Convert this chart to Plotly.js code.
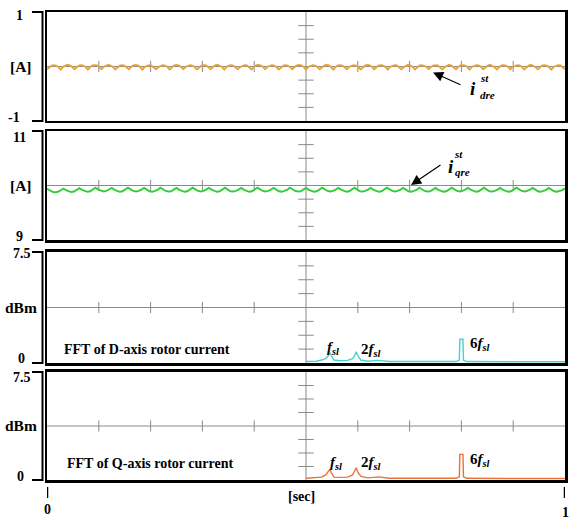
<!DOCTYPE html>
<html><head><meta charset="utf-8">
<script src="https://cdn.plot.ly/plotly-3.0.1.min.js"></script>
<style>html,body{margin:0;padding:0;background:#fff}</style>
</head><body><div id="chart" style="width:572px;height:520px"></div>
<script>
// ---------- data ----------
// Panel 1: d-axis rotor current [A]
const idreValues = [
-0.05,-0.01,0.015,0.025,0.015,-0.01,
-0.055,-0.005,0.02,0.03,0.02,-0.005,
-0.05,-0.015,0.015,0.025,0.015,-0.01,
-0.055,-0.01,0.02,0.025,0.02,-0.01,
-0.05,-0.005,0.015,0.03,0.015,-0.005,
-0.055,-0.01,0.015,0.025,0.015,-0.015,
-0.05,-0.01,0.02,0.03,0.02,-0.01,
-0.055,-0.005,0.015,0.025,0.015,-0.01,
-0.05,-0.01,0.015,0.025,0.015,-0.005,
-0.055,-0.015,0.02,0.03,0.02,-0.01,
-0.05,-0.005,0.015,0.025,0.015,-0.01,
-0.055,-0.01,0.015,0.025,0.02,-0.01,
-0.05,-0.01,0.02,0.03,0.015,-0.005,
-0.055,-0.005,0.015,0.025,0.015,-0.015,
-0.05,-0.01,0.015,0.025,0.02,-0.01,
-0.055,-0.01,0.02,0.03,0.02,-0.005,
-0.05,-0.005,0.015,0.025,0.015,-0.01,
-0.055,-0.015,0.015,0.025,0.015,-0.01,
-0.05,-0.01,0.02,0.03,0.02,-0.01,
-0.055,-0.005,0.015,0.025,0.015,-0.005,
-0.05,-0.01,0.015,0.03,0.02,-0.01,
-0.055,-0.01,0.02,0.025,0.015,-0.015,
-0.05,-0.005,0.015,0.025,0.015,-0.01,
-0.055,-0.01,0.015,0.03,0.02,-0.005,
-0.05,-0.015,0.02,0.025,0.015,-0.01,
-0.055,-0.005,0.015,0.025,0.02,-0.01,
-0.05,-0.01,0.015,0.03,0.015,-0.01,
-0.055,-0.01,0.02,0.025,0.015,-0.005,
-0.05,-0.005,0.015,0.025,0.02,-0.01,
-0.055,-0.01,0.015,0.03,0.015,-0.015,
-0.05,-0.01,0.02,0.025,0.015,-0.01,
-0.055,-0.005,0.015,0.025,0.02,-0.005,
-0.05,-0.015,0.015,0.03,0.015,-0.01,
-0.055,-0.01,0.02,0.025,0.015,-0.01,
-0.05,-0.005,0.015,0.025,0.02,-0.005,
-0.055,-0.01,0.015,0.03,0.015,-0.01,
-0.05,-0.01,0.02,0.025,0.015,-0.015,
-0.055,-0.005,0.015,0.025,0.02,-0.01,
-0.05];

// Panel 2: q-axis rotor current [A]
const iqreValues = [
9.94,9.91,9.885,9.875,9.885,9.91,
9.945,9.915,9.89,9.88,9.89,9.915,
9.95,9.92,9.895,9.885,9.895,9.92,
9.96,9.925,9.9,9.89,9.9,9.925,
9.955,9.92,9.895,9.885,9.895,9.92,
9.96,9.93,9.9,9.89,9.9,9.925,
9.955,9.925,9.895,9.885,9.9,9.92,
9.96,9.925,9.9,9.89,9.895,9.925,
9.955,9.92,9.895,9.885,9.895,9.92,
9.96,9.93,9.9,9.89,9.9,9.925,
9.955,9.925,9.9,9.885,9.895,9.92,
9.96,9.925,9.895,9.89,9.9,9.925,
9.955,9.92,9.9,9.885,9.895,9.92,
9.96,9.93,9.9,9.89,9.9,9.925,
9.955,9.925,9.895,9.885,9.9,9.92,
9.96,9.925,9.9,9.89,9.895,9.925,
9.955,9.92,9.895,9.885,9.895,9.92,
9.96,9.93,9.9,9.89,9.9,9.925,
9.955,9.925,9.9,9.885,9.895,9.92,
9.96,9.925,9.895,9.89,9.9,9.925,
9.955,9.92,9.9,9.885,9.895,9.92,
9.96,9.93,9.9,9.89,9.9,9.925,
9.955,9.925,9.895,9.885,9.9,9.92,
9.96,9.925,9.9,9.89,9.895,9.925,
9.955,9.92,9.895,9.885,9.895,9.92,
9.96,9.93,9.9,9.89,9.9,9.925,
9.955,9.925,9.9,9.885,9.895,9.92,
9.96,9.925,9.895,9.89,9.9,9.925,
9.955,9.92,9.9,9.885,9.895,9.92,
9.96,9.93,9.9,9.89,9.9,9.925,
9.955,9.925,9.895,9.885,9.9,9.92,
9.955,9.92,9.895,9.885,9.895,9.915,
9.95];

// Panel 3: FFT of D-axis rotor current [dBm]
const fftFreqD = [0.5,0.52,0.53,0.538,0.543,0.546,0.549,0.554,0.565,0.58,0.59,0.594,0.597,0.6,0.606,0.62,0.64,0.66,0.7,0.75,0.79,0.796,0.797,0.803,0.804,0.81,0.85,0.9,1.0];
const fftMagD  = [0.1,0.12,0.2,0.3,0.5,0.7,0.5,0.2,0.15,0.18,0.3,0.5,0.76,0.5,0.2,0.12,0.18,0.1,0.1,0.08,0.1,0.2,1.6,1.6,0.2,0.1,0.08,0.08,0.08];
// Panel 4: FFT of Q-axis rotor current [dBm]
const fftFreqQ = [0.5,0.52,0.53,0.538,0.543,0.546,0.549,0.554,0.565,0.58,0.59,0.594,0.597,0.6,0.606,0.62,0.64,0.66,0.7,0.75,0.79,0.796,0.797,0.803,0.804,0.81,0.85,0.9,1.0];
const fftMagQ  = [0.12,0.15,0.2,0.35,0.55,0.74,0.5,0.2,0.18,0.2,0.35,0.6,0.85,0.55,0.25,0.15,0.22,0.12,0.12,0.1,0.12,0.22,1.78,1.78,0.22,0.12,0.1,0.1,0.1];

const yRanges    = [[-1,1],[9,11],[0,7.5],[0,7.5]];
const yTickText  = [['-1','1'],['9','11'],['0','7.5'],['0','7.5']];
const unitLabels = ['[A]','[A]','dBm','dBm'];
const xTickVals  = [0,1];
const xTickText  = ['0','1'];
const xDivisions = [0.1,0.2,0.3,0.4,0.6,0.7,0.8,0.9];
const yDivisionSteps = [1,2,3,5,6,7];   // of 8 divisions per panel

// ---------- layout helpers ----------
const FONT = 'Liberation Serif, Times New Roman, serif';
const sampleTimes = arr => arr.map((_, i) => i / (arr.length - 1));
const domains = [[0.7671,1],[0.5128,0.7457],[0.25,0.4872],[0,0.2308]];
const suffix = p => p === 0 ? '' : String(p + 1);
const pxX = px => (px - 47) / 518;
const pxY = py => (480 - py) / 468;
// pixel placement of the left value labels: [x of bottom, y of bottom, x of top, y of top]
const yLabelPlace = [[14,118,19.5,16],[19,237,19,137],[21.5,358,22,254],[20,476,22,377]];
const xLabelPlace = [[48,509],[566,512]];

const traces = [];
const shapes = [];
const annotations = [];
const layout = {
  width:572, height:520,
  margin:{l:47, r:7, t:12, b:40},
  paper_bgcolor:'#fff', plot_bgcolor:'#fff',
  showlegend:false,
  font:{family:FONT, color:'#000'},
  shapes, annotations
};
const txt = (x, y, text, size, extra) => Object.assign({xref:'paper', yref:'paper', x:x, y:y,
  text:text, showarrow:false, xanchor:'center', yanchor:'middle',
  font:{size:size, family:FONT, weight:'bold', color:'#000'}}, extra || {});

for (let p = 0; p < 4; p++) {
  const s = suffix(p);
  const r = yRanges[p];
  const mid = (r[0] + r[1]) / 2;
  layout['xaxis' + s] = {
    domain:[0,1], range:[0,1], anchor:'y' + s,
    showline:true, mirror:true, linecolor:'#000', linewidth:2.5,
    showgrid:false, zeroline:false, ticks:'', showticklabels:false
  };
  layout['yaxis' + s] = {
    domain:domains[p], range:r, anchor:'x' + s,
    showline:true, mirror:true, linecolor:'#000', linewidth:2.5,
    showgrid:false, zeroline:false, ticks:'', showticklabels:false
  };
  // crosshair lines
  shapes.push({type:'line', layer:'below', xref:'x' + s, yref:'y' + s + ' domain',
    x0:0.5, x1:0.5, y0:0, y1:1, line:{color:'#8a8a8a', width:1}});
  shapes.push({type:'line', layer:'below', xref:'x' + s + ' domain', yref:'y' + s,
    x0:0, x1:1, y0:mid, y1:mid, line:{color:'#8a8a8a', width:1}});
  // left bracket
  const d = domains[p];
  shapes.push({type:'path', xref:'paper', yref:'paper',
    path:`M ${pxX(32)},${d[1]} H ${pxX(42.5)} V ${d[0]} H ${pxX(32)}`,
    line:{color:'#000', width:2}});
  // crosshair division ticks
  traces.push({type:'scatter', mode:'markers', xaxis:'x' + s, yaxis:'y' + s,
    x:xDivisions, y:xDivisions.map(() => mid), hoverinfo:'skip',
    marker:{symbol:'line-ns', size:8, line:{color:'#8a8a8a', width:1}}});
  traces.push({type:'scatter', mode:'markers', xaxis:'x' + s, yaxis:'y' + s,
    x:yDivisionSteps.map(() => 0.5), y:yDivisionSteps.map(k => r[0] + k * (r[1] - r[0]) / 8),
    hoverinfo:'skip',
    marker:{symbol:'line-ew', size:11, line:{color:'#8a8a8a', width:1}}});
  // value labels (bottom, top) and unit label
  const lp = yLabelPlace[p];
  annotations.push(txt(pxX(lp[0]), pxY(lp[1]), yTickText[p][0], 14));
  annotations.push(txt(pxX(lp[2]), pxY(lp[3]), yTickText[p][1], 14));
  annotations.push(Object.assign(txt(pxX(21), 0.5, unitLabels[p], 15.5), {yref:'y' + s + ' domain'}));
}

// data traces
traces.push({type:'scatter', mode:'lines', xaxis:'x', yaxis:'y',
  x:sampleTimes(idreValues), y:idreValues, line:{color:'#E5A33E', width:1.9}});
traces.push({type:'scatter', mode:'lines', xaxis:'x2', yaxis:'y2',
  x:sampleTimes(iqreValues), y:iqreValues, line:{color:'#33CC3A', width:1.9}});
traces.push({type:'scatter', mode:'lines', xaxis:'x3', yaxis:'y3',
  x:fftFreqD, y:fftMagD, line:{color:'#45D4D4', width:1.4}});
traces.push({type:'scatter', mode:'lines', xaxis:'x4', yaxis:'y4',
  x:fftFreqQ, y:fftMagQ, line:{color:'#E8733A', width:1.4}});

// bottom "|" marks and labels at 0 and 1
xTickVals.forEach((v, i) => {
  shapes.push({type:'line', xref:'x4', yref:'paper',
    x0:v, x1:v, y0:pxY(487), y1:pxY(498), line:{color:'#000', width:2.5}});
  annotations.push(Object.assign(txt(v, pxY(xLabelPlace[i][1]), xTickText[i], 14), {xref:'x4'}));
});
annotations.push(txt(pxX(301), pxY(496), '[sec]', 14));

// FFT captions
annotations.push(txt(pxX(62), pxY(349), 'FFT of D-axis rotor current', 14, {xanchor:'left'}));
annotations.push(txt(pxX(65), pxY(463), 'FFT of Q-axis rotor current', 14, {xanchor:'left'}));

// peak labels
const fsl = n => (n ? n : '') + '<i>f</i><sub><i>sl</i></sub>';
const peakLabels = [
  ['x3','y3',333,1.01,''],['x3','y3',371,0.88,'2'],['x3','y3',480,1.28,'6'],
  ['x4','y4',336,1.18,''],['x4','y4',371,1.18,'2'],['x4','y4',480,1.39,'6']
];
peakLabels.forEach(([xr, yr, px, y, n]) => annotations.push(Object.assign(
  txt(pxX(px), y, fsl(n), 15), {xref:xr, yref:yr})));

// current labels with arrows
annotations.push({xref:'x', yref:'y', x:pxX(433), y:-0.11, ax:29, ay:13, text:'',
  showarrow:true, arrowhead:2, arrowsize:1.7, arrowwidth:1.2, arrowcolor:'#000'});
annotations.push(txt(pxX(473), pxY(89), '<i>i</i>', 19));
annotations.push(txt(pxX(484), pxY(78), '<i>st</i>', 11));
annotations.push(txt(pxX(487), pxY(95), '<i>dre</i>', 11));

annotations.push({xref:'x2', yref:'y2', x:pxX(411), y:10.01, ax:31, ay:-21, text:'',
  showarrow:true, arrowhead:2, arrowsize:1.7, arrowwidth:1.2, arrowcolor:'#000'});
annotations.push(txt(pxX(451), pxY(166), '<i>i</i>', 19));
annotations.push(txt(pxX(458), pxY(154), '<i>st</i>', 11));
annotations.push(txt(pxX(462), pxY(172), '<i>qre</i>', 11));

Plotly.newPlot('chart', traces, layout, {staticPlot:true, displayModeBar:false});
</script>
</body></html>
